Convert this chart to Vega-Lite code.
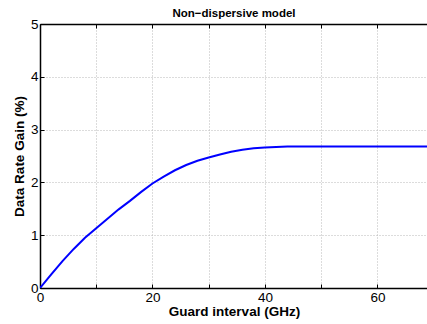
{
  "$schema": "https://vega.github.io/schema/vega-lite/v6.json",
  "autosize": {"type": "none"},
  "width": 388,
  "height": 264,
  "padding": {"left": 40, "top": 24, "right": 0, "bottom": 36},
  "title": {"text": "Non−dispersive model", "font": "Liberation Sans", "fontSize": 11.5, "fontWeight": "bold", "color": "black", "offset": -2, "anchor": "middle"},
  "config": {"view": {"stroke": null}},
  "data": {"values": [
    {"g": 0, "r": 0},
    {"g": 2, "r": 0.26},
    {"g": 4, "r": 0.51},
    {"g": 6, "r": 0.74},
    {"g": 8, "r": 0.95},
    {"g": 10, "r": 1.13},
    {"g": 12, "r": 1.31},
    {"g": 14, "r": 1.49},
    {"g": 16, "r": 1.65},
    {"g": 18, "r": 1.82},
    {"g": 20, "r": 1.98},
    {"g": 22, "r": 2.11},
    {"g": 24, "r": 2.23},
    {"g": 26, "r": 2.33},
    {"g": 28, "r": 2.41},
    {"g": 30, "r": 2.47},
    {"g": 32, "r": 2.53},
    {"g": 34, "r": 2.58},
    {"g": 36, "r": 2.62},
    {"g": 38, "r": 2.645},
    {"g": 40, "r": 2.66},
    {"g": 42, "r": 2.67},
    {"g": 44, "r": 2.68},
    {"g": 48, "r": 2.68},
    {"g": 69, "r": 2.68}
  ]},
  "resolve": {"axis": {"x": "independent"}},
  "layer": [
    {
      "mark": {"type": "line", "color": "#0000ff", "strokeWidth": 2, "clip": true},
      "encoding": {
        "x": {"field": "g", "type": "quantitative",
          "scale": {"domain": [0, 69], "nice": false, "zero": false},
          "axis": {"orient": "bottom", "values": [0,10,20,30,40,50,60], "labelExpr": "datum.value % 20 == 0 ? datum.label : ''",
            "title": "Guard interval (GHz)", "titleFont": "Liberation Sans", "titleFontSize": 13.5, "titleFontWeight": "bold", "titleColor": "black", "titlePadding": 1,
            "labelFont": "Liberation Sans", "labelFontSize": 13.5, "labelColor": "black", "labelPadding": 6, "labelFlush": false,
            "domainColor": "black", "domainWidth": 1.5, "tickColor": "black", "tickSize": -4, "tickWidth": 1,
            "grid": true, "gridColor": "#b8b8b8", "gridDash": [1, 2], "gridWidth": 1}},
        "y": {"field": "r", "type": "quantitative",
          "scale": {"domain": [0, 5], "nice": false},
          "axis": {"values": [0,0.5,1,1.5,2,2.5,3,3.5,4,4.5,5], "labelExpr": "datum.value % 1 == 0 ? datum.label : ''",
            "title": "Data Rate Gain (%)", "titleFont": "Liberation Sans", "titleFontSize": 13.5, "titleFontWeight": "bold", "titleColor": "black", "titlePadding": 4,
            "labelFont": "Liberation Sans", "labelFontSize": 13.5, "labelColor": "black", "labelPadding": 6,
            "domainColor": "black", "domainWidth": 1.5, "tickColor": "black", "tickSize": -4, "tickWidth": 1,
            "grid": true, "gridColor": "#b8b8b8", "gridDash": [1, 2], "gridWidth": 1}}
      }
    },
    {
      "mark": {"type": "line", "opacity": 0},
      "encoding": {
        "x": {"field": "g", "type": "quantitative",
          "axis": {"orient": "top", "values": [0,10,20,30,40,50,60], "labels": false, "title": null,
            "domainColor": "black", "domainWidth": 1.5, "tickColor": "black", "tickSize": -4, "tickWidth": 1, "grid": false}},
        "y": {"field": "r", "type": "quantitative"}
      }
    }
  ]
}
